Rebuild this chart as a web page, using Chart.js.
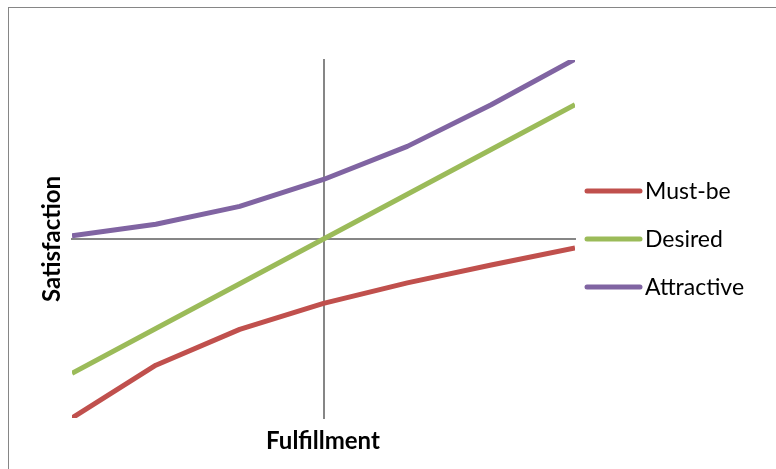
<!DOCTYPE html>
<html>
<head>
<meta charset="utf-8">
<script src="https://cdn.jsdelivr.net/npm/chart.js@4.4.1/dist/chart.umd.min.js"></script>
<style>
  html, body { margin: 0; padding: 0; background: #fff; }
  #wrap { position: relative; width: 776px; height: 469px; overflow: hidden; }
  #frame { position: absolute; left: 8px; top: 7px; width: 800px; height: 500px; border: 1px solid #868686; box-sizing: border-box; }
  canvas { position: absolute; left: 0; top: 0; }
</style>
</head>
<body>
<div id="wrap">
  <div id="frame"></div>
  <canvas id="c" width="776" height="469"></canvas>
</div>
<script>
// Fulfillment levels (x) and satisfaction response for each Kano category
const fulfillment = [-3, -2, -1, 0, 1, 2, 3];
const mustBe     = [-4.0, -2.82, -2.02, -1.44, -0.98, -0.58, -0.2];
const desired    = [-3.0, -2.0, -1.0, 0.0, 1.0, 2.0, 3.0];
const attractive = [0.07, 0.33, 0.73, 1.33, 2.07, 3.0, 4.02];
const seriesNames  = ['Must-be', 'Desired', 'Attractive'];
const seriesColors = ['#C0504D', '#9BBB59', '#8064A2'];
const axisTitles = { x: 'Fulfillment', y: 'Satisfaction' };

const FONT = "Lato, 'Open Sans', sans-serif";

function toPoints(vals) {
  return vals.map((v, i) => ({ x: fulfillment[i], y: v }));
}

// Legend and axis titles drawn onto the canvas after the chart
const decorations = {
  id: 'decorations',
  afterDraw(chart) {
    const ctx = chart.ctx;
    ctx.save();
    // legend
    const lx = 587, ly0 = 191, step = 48;
    chart.data.datasets.forEach((ds, i) => {
      const y = ly0 + i * step;
      ctx.strokeStyle = ds.borderColor;
      ctx.lineWidth = 5;
      ctx.lineCap = 'round';
      ctx.beginPath();
      ctx.moveTo(lx, y);
      ctx.lineTo(lx + 53, y);
      ctx.stroke();
      ctx.fillStyle = '#000';
      ctx.font = "23px " + FONT;
      ctx.textBaseline = 'middle';
      ctx.textAlign = 'left';
      ctx.fillText(ds.label, 645, y + 1);
    });
    // axis titles
    ctx.fillStyle = '#000';
    ctx.font = "bold 24px " + FONT;
    ctx.textAlign = 'center';
    ctx.textBaseline = 'middle';
    ctx.fillText(axisTitles.x, 323, 441);
    ctx.translate(52, 239);
    ctx.rotate(-Math.PI / 2);
    ctx.fillText(axisTitles.y, 0, 0);
    ctx.restore();
  }
};

new Chart(document.getElementById('c'), {
  type: 'line',
  data: {
    datasets: [
      { label: seriesNames[0], data: toPoints(mustBe), borderColor: seriesColors[0] },
      { label: seriesNames[1], data: toPoints(desired), borderColor: seriesColors[1] },
      { label: seriesNames[2], data: toPoints(attractive), borderColor: seriesColors[2] }
    ].map(d => Object.assign(d, {
      borderWidth: 5, pointRadius: 0, tension: 0, fill: false,
      borderCapStyle: 'butt', borderJoinStyle: 'round'
    }))
  },
  options: {
    responsive: false,
    animation: false,
    layout: { padding: { left: 72, top: 60, right: 201, bottom: 51 } },
    plugins: { legend: { display: false }, tooltip: { enabled: false } },
    scales: {
      x: {
        type: 'linear', min: -3, max: 3,
        position: { y: 0 },
        grid: { display: false, drawTicks: false },
        border: { color: '#868686', width: 2 },
        ticks: { display: false }
      },
      y: {
        type: 'linear', min: -4, max: 4,
        position: { x: 0 },
        grid: { display: false, drawTicks: false },
        border: { color: '#868686', width: 2 },
        ticks: { display: false }
      }
    }
  },
  plugins: [decorations]
});
</script>
</body>
</html>
